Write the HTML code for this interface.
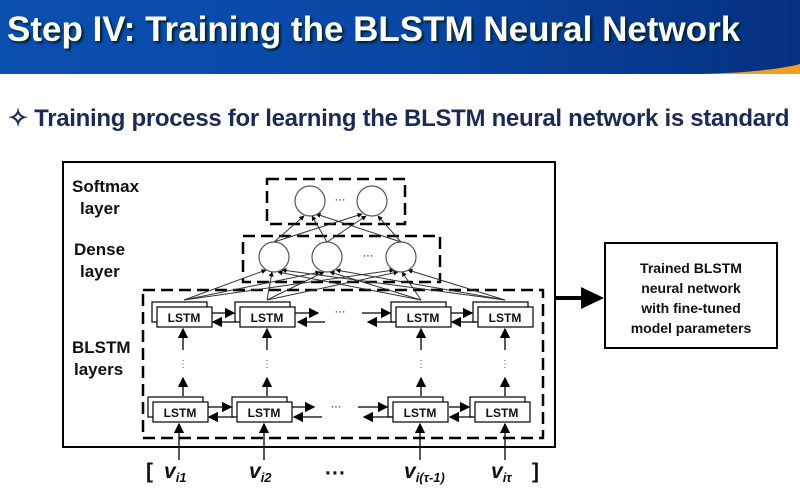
<!DOCTYPE html>
<html><head><style>
body{margin:0;width:800px;height:498px;overflow:hidden;background:#fff;font-family:"Liberation Sans",sans-serif;position:relative}
.hdr{position:absolute;left:0;top:0;width:800px;height:74px;background:linear-gradient(90deg,#0b4fb0 0%,#0a47a6 50%,#05307e 100%)}
.hdr span{position:absolute;left:7px;top:10px;color:#fff;font-weight:bold;font-size:35px;text-shadow:2px 2px 2px #022;white-space:nowrap}
.sub{position:absolute;left:8px;top:104px;font-size:24px;font-weight:bold;color:#1a2c55;white-space:nowrap;letter-spacing:-0.3px}
</style></head><body>
<div class="hdr"><span>Step IV: Training the BLSTM Neural Network</span></div>
<div class="sub">✧ Training process for learning the BLSTM neural network is standard</div>
<svg width="800" height="498" style="position:absolute;left:0;top:0" font-family="Liberation Sans, sans-serif">
<defs><marker id="a" markerWidth="5" markerHeight="5" refX="4.5" refY="2.5" orient="auto"><path d="M0,0L5,2.5L0,5z" fill="#000"/></marker>
<marker id="s" markerWidth="8" markerHeight="8" refX="7" refY="4" orient="auto"><path d="M0,0L8,4L0,8z" fill="#000"/></marker></defs>
<path d="M700,74 Q770,72 800,64 L800,74z" fill="#f0a020"/>
<rect x="63" y="162" width="492" height="285" fill="none" stroke="#000" stroke-width="2"/>
<rect x="605" y="243" width="172" height="105" fill="none" stroke="#000" stroke-width="2"/>
<g font-size="14" font-weight="bold" text-anchor="middle" fill="#111">
<text x="691" y="273">Trained BLSTM</text><text x="691" y="293">neural network</text><text x="691" y="313">with fine-tuned</text><text x="691" y="333">model parameters</text></g>
<line x1="555" y1="298" x2="600" y2="298" stroke="#000" stroke-width="4"/>
<path d="M581,287 L604,298 L581,309z" fill="#000"/>
<g font-size="17" font-weight="bold" fill="#111">
<text x="72" y="192">Softmax</text><text x="80" y="214">layer</text>
<text x="74" y="255">Dense</text><text x="80" y="277">layer</text>
<text x="72" y="353">BLSTM</text><text x="74" y="375">layers</text></g>
<g fill="none" stroke="#000" stroke-width="2.5" stroke-dasharray="12,6">
<rect x="267" y="179" width="138" height="45"/>
<rect x="243" y="236" width="197" height="46"/>
<rect x="143" y="290" width="400" height="148"/></g>
<g stroke="#333" stroke-width="1" marker-end="url(#a)">
<line x1="274" y1="242" x2="304" y2="216"/><line x1="274" y1="242" x2="362" y2="214"/>
<line x1="327" y1="242" x2="312" y2="216"/><line x1="327" y1="242" x2="366" y2="216"/>
<line x1="401" y1="242" x2="316" y2="214"/><line x1="401" y1="242" x2="378" y2="216"/>
<line x1="184" y1="300" x2="266" y2="270"/><line x1="184" y1="300" x2="320" y2="272"/><line x1="184" y1="300" x2="394" y2="270"/>
<line x1="267" y1="300" x2="272" y2="272"/><line x1="267" y1="300" x2="324" y2="272"/><line x1="267" y1="300" x2="398" y2="272"/>
<line x1="421" y1="300" x2="278" y2="272"/><line x1="421" y1="300" x2="330" y2="272"/><line x1="421" y1="300" x2="402" y2="272"/>
<line x1="505" y1="300" x2="282" y2="270"/><line x1="505" y1="300" x2="336" y2="270"/><line x1="505" y1="300" x2="408" y2="270"/>
</g>
<g fill="#fff" stroke="#555" stroke-width="1.2">
<circle cx="310" cy="201" r="15"/><circle cx="372" cy="201" r="15"/>
<circle cx="274" cy="257" r="15"/><circle cx="327" cy="257" r="15"/><circle cx="401" cy="257" r="15"/></g>
<g font-size="11" text-anchor="middle"><text x="340" y="203">···</text><text x="368" y="259">···</text><text x="340" y="315">···</text><text x="336" y="410">···</text></g>
<g stroke="#000" stroke-width="1.2" fill="#fff">
<rect x="152" y="302" width="55" height="20"/><rect x="157" y="307" width="55" height="20"/>
<rect x="235" y="302" width="55" height="20"/><rect x="240" y="307" width="55" height="20"/>
<rect x="391" y="302" width="55" height="20"/><rect x="396" y="307" width="55" height="20"/>
<rect x="473" y="302" width="55" height="20"/><rect x="478" y="307" width="55" height="20"/>
<rect x="148" y="397" width="55" height="20"/><rect x="153" y="402" width="55" height="20"/>
<rect x="232" y="397" width="55" height="20"/><rect x="237" y="402" width="55" height="20"/>
<rect x="388" y="397" width="55" height="20"/><rect x="393" y="402" width="55" height="20"/>
<rect x="470" y="397" width="55" height="20"/><rect x="475" y="402" width="55" height="20"/>
</g>
<g font-size="12" font-weight="bold" text-anchor="middle" fill="#111">
<text x="184" y="322">LSTM</text><text x="267" y="322">LSTM</text><text x="423" y="322">LSTM</text><text x="505" y="322">LSTM</text>
<text x="180" y="417">LSTM</text><text x="264" y="417">LSTM</text><text x="420" y="417">LSTM</text><text x="502" y="417">LSTM</text></g>
<g stroke="#000" stroke-width="1.3" marker-end="url(#s)">
<line x1="212" y1="313" x2="234" y2="313"/><line x1="237" y1="322" x2="213" y2="322"/>
<line x1="295" y1="313" x2="318" y2="313"/><line x1="325" y1="322" x2="298" y2="322"/>
<line x1="362" y1="313" x2="390" y2="313"/><line x1="395" y1="322" x2="368" y2="322"/>
<line x1="451" y1="313" x2="472" y2="313"/><line x1="476" y1="322" x2="452" y2="322"/>
<line x1="208" y1="407" x2="231" y2="407"/><line x1="234" y1="417" x2="209" y2="417"/>
<line x1="292" y1="407" x2="314" y2="407"/><line x1="322" y1="417" x2="294" y2="417"/>
<line x1="358" y1="407" x2="387" y2="407"/><line x1="392" y1="417" x2="364" y2="417"/>
<line x1="449" y1="407" x2="469" y2="407"/><line x1="473" y1="417" x2="450" y2="417"/>
<line x1="183" y1="350" x2="183" y2="329"/><line x1="267" y1="350" x2="267" y2="329"/><line x1="421" y1="350" x2="421" y2="329"/><line x1="505" y1="350" x2="505" y2="329"/>
<line x1="183" y1="396" x2="183" y2="378"/><line x1="267" y1="396" x2="267" y2="378"/><line x1="421" y1="396" x2="421" y2="378"/><line x1="505" y1="396" x2="505" y2="378"/>
<line x1="179" y1="460" x2="179" y2="424"/><line x1="264" y1="460" x2="264" y2="424"/><line x1="420" y1="460" x2="420" y2="424"/><line x1="505" y1="460" x2="505" y2="424"/>
</g>
<g font-size="10" text-anchor="middle" fill="#555"><text x="183" y="367">⋮</text><text x="267" y="367">⋮</text><text x="421" y="367">⋮</text><text x="505" y="367">⋮</text></g>
<g font-size="21" font-weight="bold" fill="#111">
<text x="146" y="478">[</text><text x="532" y="478">]</text><text x="325" y="480">···</text>
<text x="164" y="478" font-style="italic">v<tspan font-size="13" dy="4">i1</tspan></text>
<text x="249" y="478" font-style="italic">v<tspan font-size="13" dy="4">i2</tspan></text>
<text x="404" y="478" font-style="italic">v<tspan font-size="13" dy="4">i(τ-1)</tspan></text>
<text x="491" y="478" font-style="italic">v<tspan font-size="13" dy="4">iτ</tspan></text></g>
</svg>
</body></html>
